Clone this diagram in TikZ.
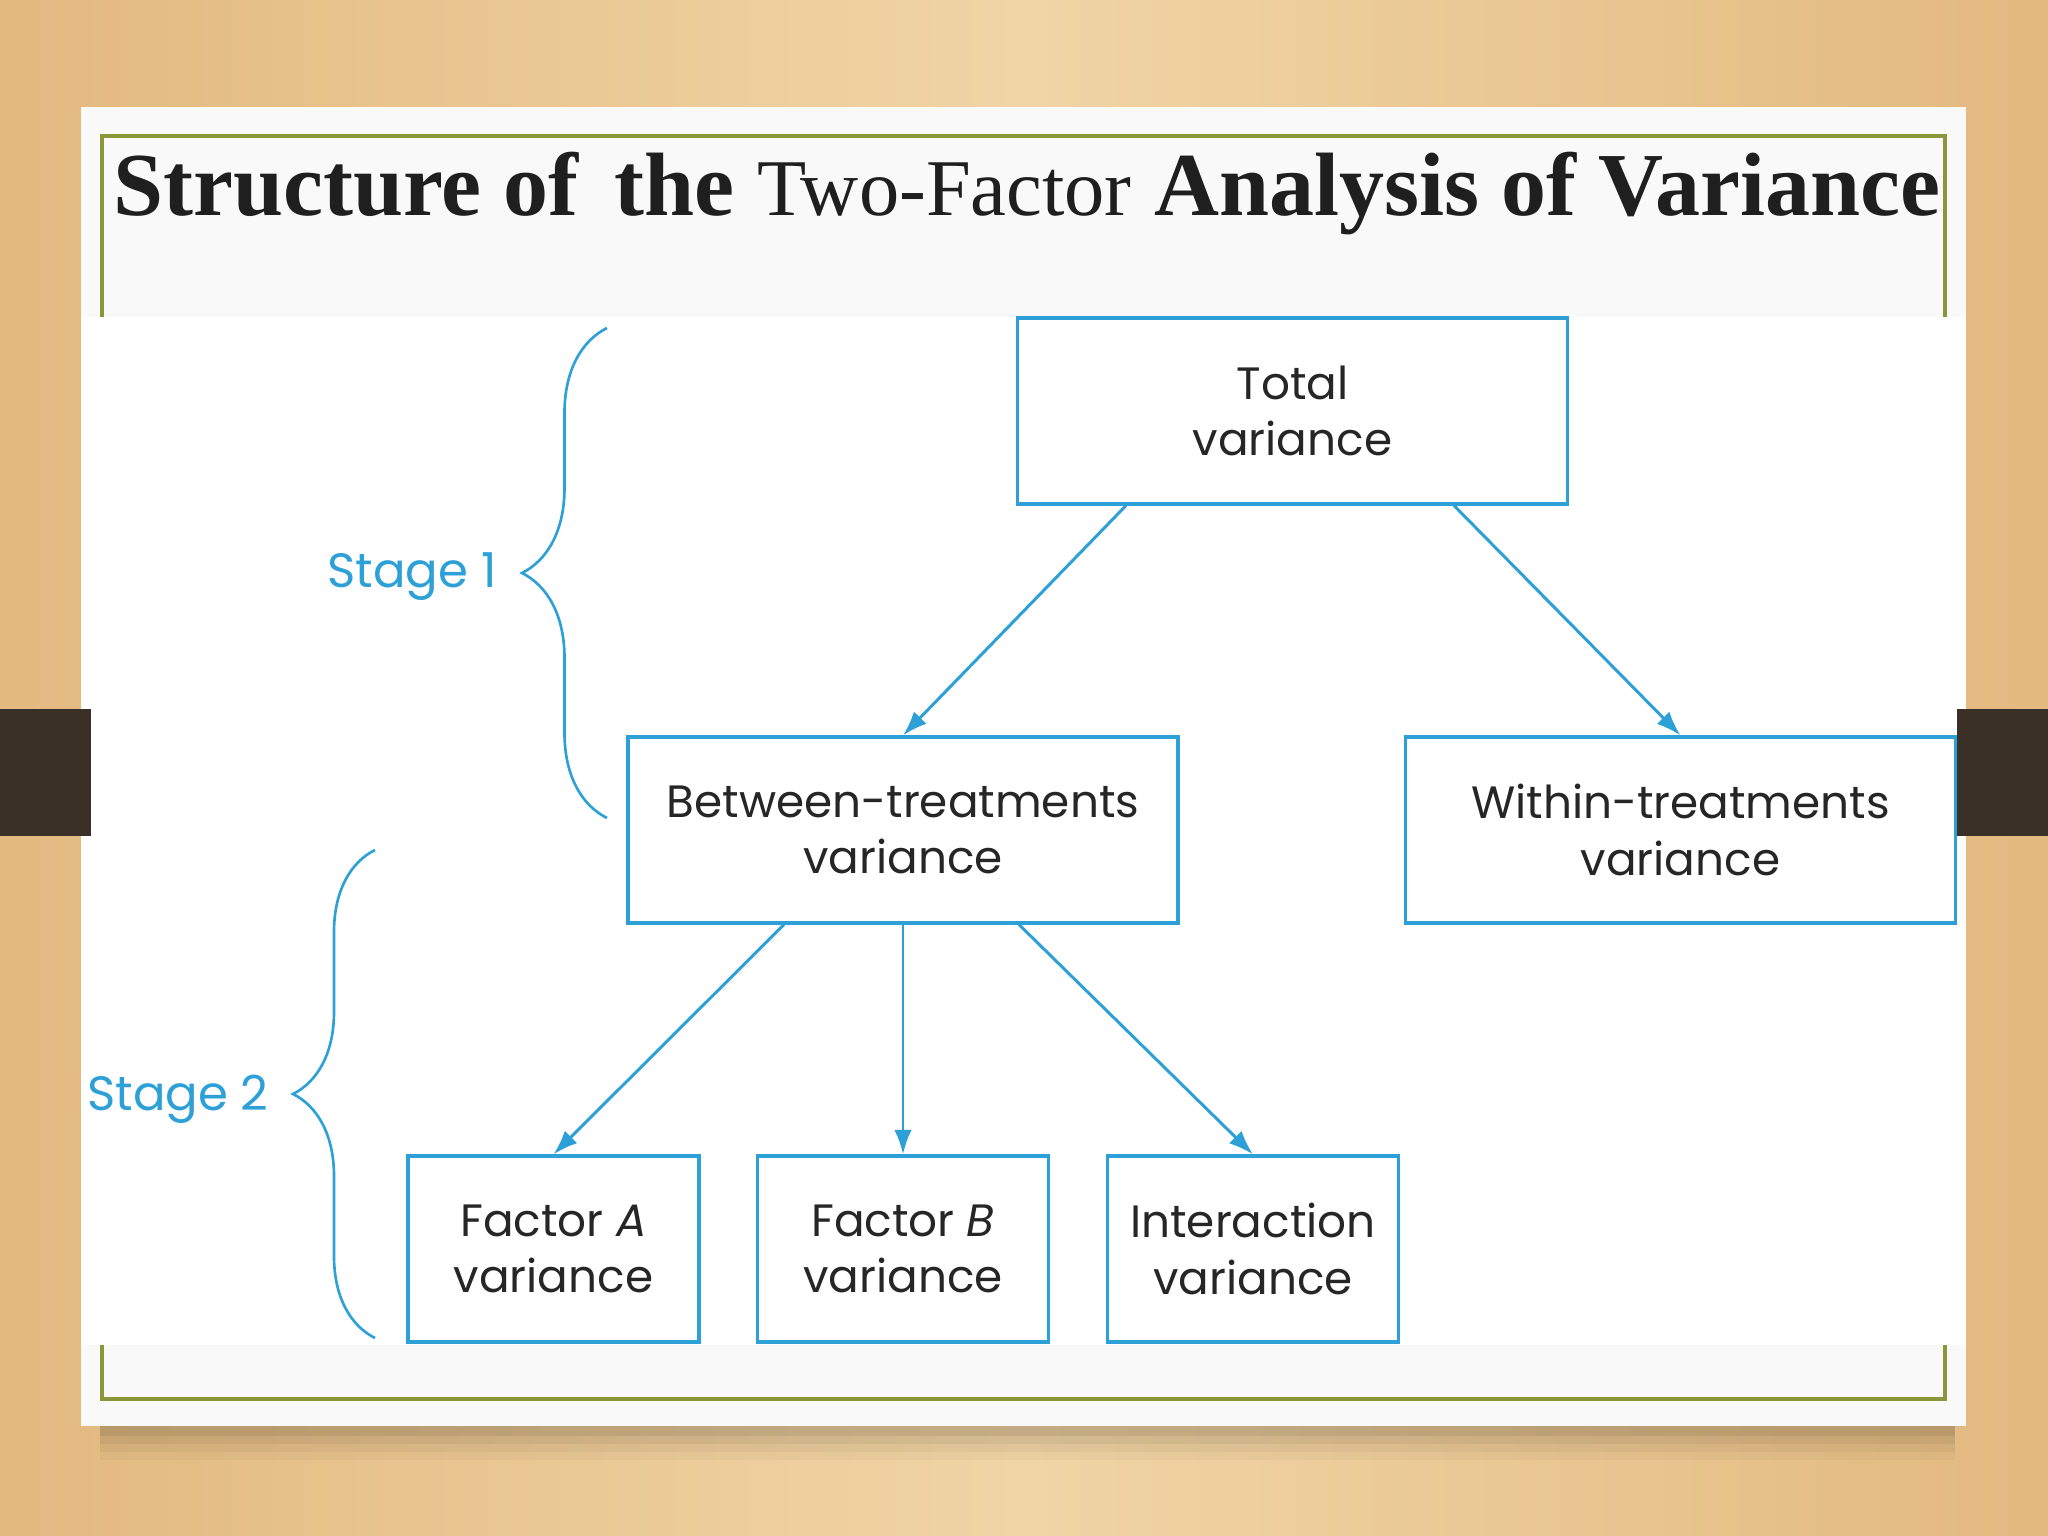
\documentclass[tikz,border=0pt]{standalone}
\usepackage{fontspec}
\setmainfont{Liberation Serif}
\newfontfamily\boxfont{Poppins}
\usepackage{tikz}
\usetikzlibrary{shapes,arrows,arrows.meta,positioning,calc,decorations.pathreplacing}

\definecolor{woodlight}{RGB}{241,213,166}
\definecolor{wooddark}{RGB}{226,185,127}
\definecolor{barbrown}{RGB}{58,48,40}
\definecolor{framegreen}{RGB}{137,150,58}
\definecolor{diagblue}{RGB}{45,160,215}
\definecolor{slidewhite}{RGB}{249,249,249}

\begin{document}
\begin{tikzpicture}[
    node distance=4.19cm,
    block/.style={rectangle, draw=diagblue, line width=0.9pt, fill=white, minimum width=5.5cm, minimum height=1.86cm, align=center, text=black!85, font=\boxfont\fontsize{12.9}{16}\selectfont},
    small block/.style={block, minimum width=2.91cm},
    line/.style={draw=diagblue, line width=0.85pt, -{Latex[length=7pt,width=5pt]}},
    stage/.style={draw=diagblue, line width=0.75pt, decorate, decoration={brace, amplitude=0.85cm}},
    stage label/.style={anchor=base east, text=diagblue, font=\boxfont\fontsize{13.7}{16}\selectfont}
]
\useasboundingbox (0,0) rectangle (20.48,-15.36);

% Wooden desk and slide
\shade [left color=wooddark, right color=wooddark, middle color=woodlight] (0,0) rectangle (20.48,-15.36);
\foreach \s/\o in {0.34/0.03, 0.26/0.04, 0.18/0.05, 0.10/0.07}
    \fill [black, opacity=\o] (1.0,-14.0) rectangle (19.55,-14.26-\s);
\fill [slidewhite] (0.81,-1.07) rectangle (19.66,-14.26);
\draw [framegreen, line width=1.2pt] (1.02,-1.36) rectangle (19.45,-13.99);
\fill [white] (0.81,-3.17) rectangle (19.66,-13.45);
\fill [barbrown] (0,-7.09) rectangle (0.91,-8.36);
\fill [barbrown] (19.57,-7.09) rectangle (20.48,-8.36);

% Title
\node [anchor=base, text=black!88] (title) at (10.27,-2.16) {\fontsize{25.6}{30}\selectfont\bfseries Structure of\hspace{0.4em}the {\mdseries\fontsize{22.9}{27}\selectfont Two-Factor} Analysis of Variance};

% Stage 1
\node [block] (total) at (12.925,-4.11) {Total\\variance};
\node [block, below of=total, xshift=-3.895cm] (between) {Between-treatments\\variance};
\node [block, right of=between, xshift=3.585cm] (within) {Within-treatments\\variance};

% Stage 2
\node [small block, below of=between] (factorb) {Factor \textit{B}\\variance};
\node [small block, left of=factorb, xshift=0.695cm] (factora) {Factor \textit{A}\\variance};
\node [small block, right of=factorb, xshift=-0.69cm] (interaction) {Interaction\\variance};

% Connections
\path [line] ([xshift=-1.665cm]total.south) -- (between.north);
\path [line] ([xshift=1.615cm]total.south) -- (within.north);
\path [line] ([xshift=-1.19cm]between.south) -- (factora.north);
\path [line] (between.south) -- (factorb.north);
\path [line] ([xshift=1.16cm]between.south) -- (interaction.north);

% Braces
\coordinate (s1top) at (6.07,-3.28);
\coordinate (s1bot) at (6.07,-8.18);
\draw [stage] (s1bot) -- (s1top);
\node [stage label] (stage1) at (5.09,-5.88) {Stage 1};
\coordinate (s2top) at (3.75,-8.50);
\coordinate (s2bot) at (3.75,-13.38);
\draw [stage, decoration={amplitude=0.82cm}] (s2bot) -- (s2top);
\node [stage label] (stage2) at (2.81,-11.10) {Stage 2};

\end{tikzpicture}
\end{document}
